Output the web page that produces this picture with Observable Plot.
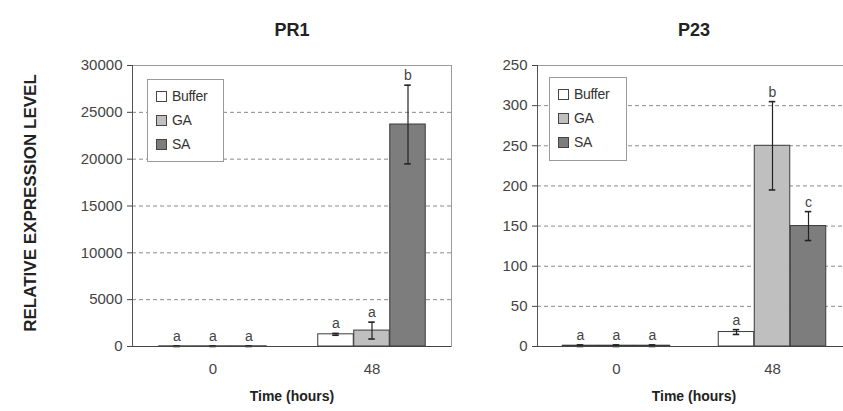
<!DOCTYPE html>
<html><head><meta charset="utf-8">
<script src="https://cdn.jsdelivr.net/npm/d3@7"></script>
<script src="https://cdn.jsdelivr.net/npm/@observablehq/plot@0.6"></script>
<style>
html,body{margin:0;padding:0;background:#fff;overflow:hidden}
#wrap{position:relative;width:843px;height:411px;overflow:hidden;font-family:"Liberation Sans",Arial,sans-serif}
.chart{position:absolute;top:0}
.legend{position:absolute;background:#fff;border:1px solid #9a9a9a;box-sizing:border-box;padding:4px 0 0 8px;z-index:2}
.legend .row{height:24px;display:flex;align-items:center;font-size:14px;color:#333;letter-spacing:-0.3px}
.legend .sw{width:11px;height:11px;box-sizing:border-box;border:1px solid #444;margin-right:5px}
</style></head>
<body><div id="wrap"></div>
<script>
// ---- data ----
const times = ["0", "48"];
const treatments = ["Buffer", "GA", "SA"];
const treatmentFill = ["#ffffff", "#bfbfbf", "#7d7d7d"];
// values ordered time-major: 0h Buffer, GA, SA, 48h Buffer, GA, SA
const pr1Mean = [20, 20, 20, 1300, 1700, 23700];
const pr1Err = [30, 30, 30, 100, 900, 4200];
const pr1Letters = ["a", "a", "a", "a", "a", "b"];
const pr1Ticks = [0, 5000, 10000, 15000, 20000, 25000, 30000];
const pr1TickLabels = ["0", "5000", "10000", "15000", "20000", "25000", "30000"];

const p23Mean = [1, 1, 1, 18, 250, 150];
const p23Err = [1, 1, 1, 3, 55, 18];
const p23Letters = ["a", "a", "a", "a", "b", "c"];
const p23Ticks = [0, 50, 100, 150, 200, 250, 300, 350];
const p23TickLabels = ["0", "50", "100", "150", "200", "250", "300", "250"];

const wrap = document.getElementById("wrap");
const FONT = "Liberation Sans, Arial, sans-serif";

function rows(mean, err, letters) {
  return mean.map((v, i) => ({
    time: times[Math.floor(i / treatments.length)],
    treatment: treatments[i % treatments.length],
    value: v, err: err[i], letter: letters[i]
  }));
}

function chart({title, mean, err, letters, ticks, tickLabels, left, width, ml, mr, showYLabel, legendPos}) {
  const data = rows(mean, err, letters);
  const mt = 65, mb = 65, height = 411;
  const band = (width - ml - mr) / times.length;
  const bw = 36, cap = 7;
  const marks = [
    Plot.ruleY(ticks.slice(1, -1), {stroke: "#8a8a8a", strokeDasharray: "4,3"}),
  ];
  treatments.forEach((t, i) => {
    const sub = data.filter(d => d.treatment === t);
    const dx = (i - 1) * bw;
    const inset = (band - bw) / 2;
    const capInset = (band - cap) / 2;
    marks.push(
      Plot.barY(sub, {x: "time", y: "value", fill: treatmentFill[i], stroke: "#3a3a3a", strokeWidth: 1, dx, insetLeft: inset, insetRight: inset}),
      Plot.ruleX(sub, {x: "time", y1: d => d.value - d.err, y2: d => d.value + d.err, stroke: "#222", strokeWidth: 1.2, dx}),
      Plot.tickY(sub, {x: "time", y: d => d.value + d.err, stroke: "#222", strokeWidth: 1.6, dx, insetLeft: capInset, insetRight: capInset}),
      Plot.tickY(sub, {x: "time", y: d => Math.max(0, d.value - d.err), stroke: "#222", strokeWidth: 1.6, dx, insetLeft: capInset, insetRight: capInset}),
      Plot.text(sub, {x: "time", y: d => d.value + d.err, text: "letter", dx, dy: -5, lineAnchor: "bottom", fontSize: 14, fill: "#444"})
    );
  });
  marks.push(
    Plot.frame({stroke: "#9a9a9a"}),
    Plot.frame({anchor: "left", stroke: "#555"}),
    Plot.ruleY([0], {stroke: "#444"}),
    Plot.axisY({ticks, tickFormat: d => tickLabels[ticks.indexOf(d)], tickSize: 5, tickPadding: 5, fontSize: 15, label: null, color: "#444"}),
    Plot.axisX({tickSize: 0, tickPadding: 17, fontSize: 15, label: null, color: "#444"}),
    Plot.text([title], {frameAnchor: "top", dy: -42, fontSize: 18, fontWeight: "bold", fill: "#222"}),
    Plot.text(["Time (hours)"], {frameAnchor: "bottom", dy: 54, fontSize: 14, fontWeight: "bold", fill: "#222"})
  );
  if (showYLabel) {
    marks.push(Plot.text(["RELATIVE EXPRESSION LEVEL"], {frameAnchor: "left", textAnchor: "middle", rotate: -90, dx: -102, dy: -3, fontSize: 17, fontWeight: "bold", fill: "#222"}));
  }
  const svg = Plot.plot({
    width, height, marginLeft: ml, marginRight: mr, marginTop: mt, marginBottom: mb,
    style: {fontFamily: FONT, background: "transparent", overflow: "visible"},
    x: {type: "band", domain: times, padding: 0, axis: null},
    y: {domain: [ticks[0], ticks[ticks.length - 1]], axis: null},
    marks
  });
  svg.classList.add("chart");
  svg.style.left = left + "px";
  wrap.appendChild(svg);

  const lg = document.createElement("div");
  lg.className = "legend";
  Object.assign(lg.style, {left: legendPos[0] + "px", top: legendPos[1] + "px", width: legendPos[2] + "px", height: legendPos[3] + "px"});
  treatments.forEach((t, i) => {
    const r = document.createElement("div");
    r.className = "row";
    r.innerHTML = `<span class="sw" style="background:${treatmentFill[i]}"></span><span>${t}</span>`;
    lg.appendChild(r);
  });
  wrap.appendChild(lg);
}

chart({title: "PR1", mean: pr1Mean, err: pr1Err, letters: pr1Letters, ticks: pr1Ticks, tickLabels: pr1TickLabels,
  left: 0, width: 460, ml: 132, mr: 9, showYLabel: true, legendPos: [147, 79, 77, 83]});
chart({title: "P23", mean: p23Mean, err: p23Err, letters: p23Letters, ticks: p23Ticks, tickLabels: p23TickLabels,
  left: 460, width: 400, ml: 77, mr: 10, showYLabel: false, legendPos: [549, 77, 78, 84]});
</script>
</body></html>
